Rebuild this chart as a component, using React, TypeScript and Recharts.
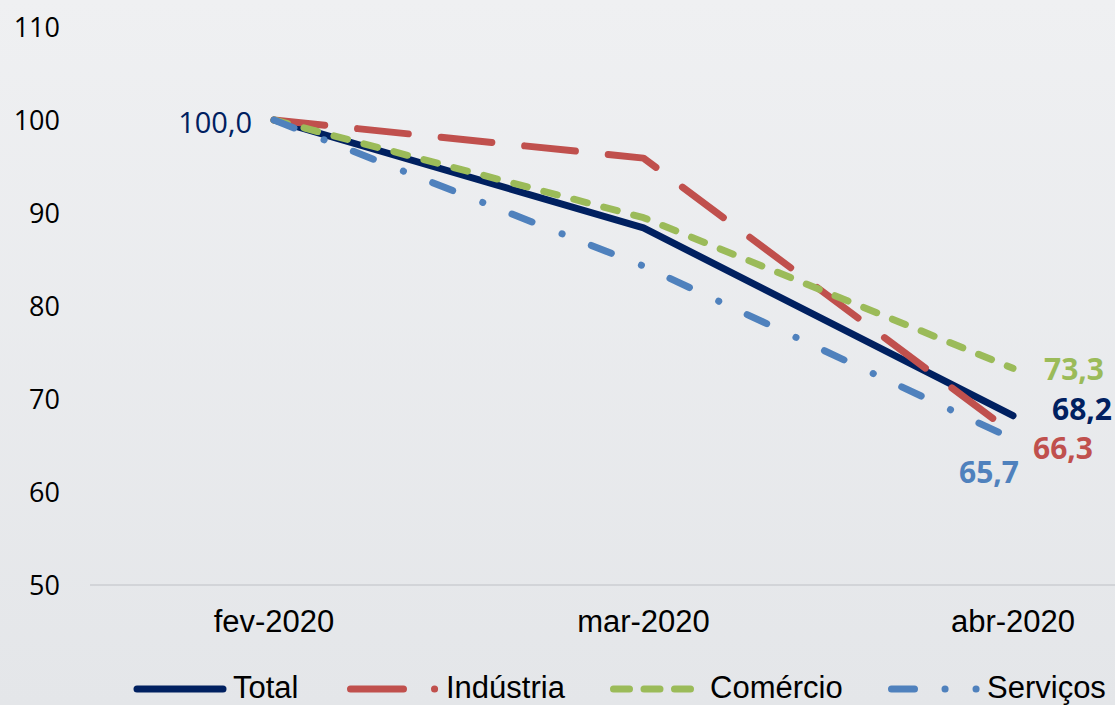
import React from 'react';
import { LineChart, Line, XAxis, YAxis, Legend, LabelList } from 'recharts';

const months = ['fev-2020', 'mar-2020', 'abr-2020'];
const total = [100, 88.4, 68.2];
const industria = [100, 95.9, 66.3];
const comercio = [100, 89.5, 73.3];
const servicos = [100, 84.3, 65.7];
const yTicks = [50, 60, 70, 80, 90, 100, 110];

const data = months.map((m, i) => ({
  month: m,
  total: total[i],
  industria: industria[i],
  comercio: comercio[i],
  servicos: servicos[i],
}));

const NAVY = '#002060';
const RED = '#c0504d';
const GREEN = '#9bbb59';
const BLUE = '#4f81bd';

const LABEL_FONT = '"Open Sans", sans-serif';
const AXIS_FONT = '"Liberation Sans", Arial, sans-serif';

const fmt = (v: number) => v.toFixed(1).replace('.', ',');

type LabelCfg = { index: number; dx: number; dy: number; anchor: 'start' | 'end'; bold: boolean };

const makeLabel = (color: string, cfgs: LabelCfg[]) => (props: any) => {
  const { x, y, value, index } = props;
  const c = cfgs.find((k) => k.index === index);
  if (!c || x == null || y == null) return null;
  return (
    <text
      x={Number(x) + c.dx}
      y={Number(y) + c.dy}
      textAnchor={c.anchor}
      fill={color}
      fontFamily={LABEL_FONT}
      fontSize={c.bold ? 30 : 29}
      fontWeight={c.bold ? 700 : 400}
    >
      {fmt(Number(value))}
    </text>
  );
};

const legendItems = [
  { name: 'Total', color: NAVY, left: 130, x1: 7, x2: 93, dash: undefined as string | undefined, textX: 233 },
  { name: 'Indústria', color: RED, left: 344, x1: 6.5, x2: 92, dash: '53 31 0.1 50', textX: 446 },
  { name: 'Comércio', color: GREEN, left: 607, x1: 6.5, x2: 83.5, dash: '16 14.5', textX: 710 },
  { name: 'Serviços', color: BLUE, left: 885, x1: 6.5, x2: 92, dash: '23 30.5 0.1 30.9 0.1 100', textX: 987 },
];

const LegendContent = () => (
  <svg width={1115} height={60} style={{ display: 'block' }}>
    {legendItems.map((it) => (
      <g key={it.name}>
        <line
          x1={it.left + it.x1}
          x2={it.left + it.x2}
          y1={44}
          y2={44}
          stroke={it.color}
          strokeWidth={7}
          strokeLinecap="round"
          strokeDasharray={it.dash}
        />
        <text x={it.textX} y={53} fontFamily={AXIS_FONT} fontSize={31} fill="#000">
          {it.name}
        </text>
      </g>
    ))}
  </svg>
);

export default function App() {
  return (
    <div
      style={{
        position: 'absolute',
        left: 0,
        top: 0,
        width: 1115,
        height: 705,
        background: 'linear-gradient(180deg, #eff0f2 0%, #e4e6e9 100%)',
      }}
    >
      <LineChart width={1115} height={705} data={data} margin={{ top: 27, right: 0, left: 0, bottom: 0 }}>
        <XAxis
          dataKey="month"
          padding={{ left: 184, right: 102 }}
          axisLine={{ stroke: '#d2d4d8', strokeWidth: 2 }}
          tickLine={false}
          tickMargin={19}
          height={60}
          tick={{ fontFamily: AXIS_FONT, fontSize: 31, fill: '#000' }}
        />
        <YAxis
          width={90}
          domain={[50, 110]}
          ticks={yTicks}
          axisLine={false}
          tickLine={false}
          tickMargin={24}
          tick={{ fontFamily: LABEL_FONT, fontSize: 27, fill: '#000' }}
        />
        <Legend verticalAlign="bottom" height={60} content={<LegendContent />} />
        <Line
          dataKey="total"
          name="Total"
          stroke={NAVY}
          strokeWidth={7}
          strokeLinecap="round"
          strokeLinejoin="round"
          dot={false}
          activeDot={false}
          isAnimationActive={false}
        >
          <LabelList
            dataKey="total"
            content={makeLabel(NAVY, [
              { index: 0, dx: -22, dy: 13, anchor: 'end', bold: false },
              { index: 2, dx: 39, dy: 4, anchor: 'start', bold: true },
            ])}
          />
        </Line>
        <Line
          dataKey="industria"
          name="Indústria"
          stroke={RED}
          strokeWidth={7}
          strokeLinecap="round"
          strokeLinejoin="round"
          strokeDasharray="51 33"
          dot={false}
          activeDot={false}
          isAnimationActive={false}
        >
          <LabelList
            dataKey="industria"
            content={makeLabel(RED, [{ index: 2, dx: 20, dy: 26, anchor: 'start', bold: true }])}
          />
        </Line>
        <Line
          dataKey="comercio"
          name="Comércio"
          stroke={GREEN}
          strokeWidth={7}
          strokeLinecap="round"
          strokeLinejoin="round"
          strokeDasharray="14 17"
          dot={false}
          activeDot={false}
          isAnimationActive={false}
        >
          <LabelList
            dataKey="comercio"
            content={makeLabel(GREEN, [{ index: 2, dx: 31, dy: 12, anchor: 'start', bold: true }])}
          />
        </Line>
        <Line
          dataKey="servicos"
          name="Serviços"
          stroke={BLUE}
          strokeWidth={7}
          strokeLinecap="round"
          strokeLinejoin="round"
          strokeDasharray="21.5 32.3 0.1 31.4"
          dot={false}
          activeDot={false}
          isAnimationActive={false}
        >
          <LabelList
            dataKey="servicos"
            content={makeLabel(BLUE, [{ index: 2, dx: 6, dy: 44, anchor: 'end', bold: true }])}
          />
        </Line>
      </LineChart>
    </div>
  );
}
